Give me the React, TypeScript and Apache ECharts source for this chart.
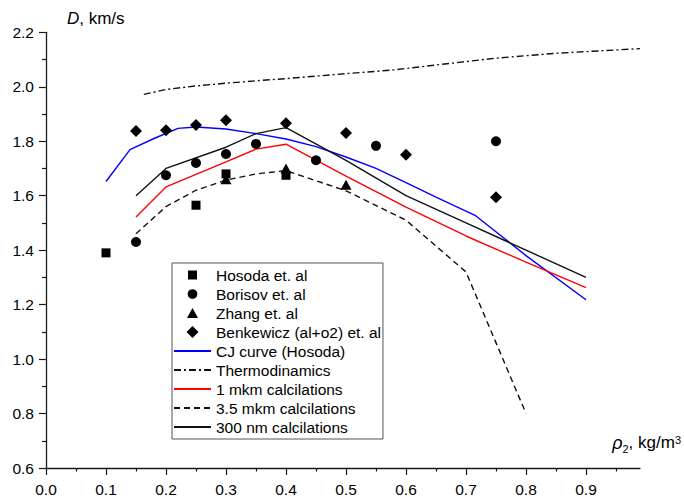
import React, { useEffect, useRef } from "react";
import * as echarts from "echarts";

// Experimental points
const hosodaX = [0.1, 0.25, 0.3, 0.4];
const hosodaY = [1.39, 1.565, 1.68, 1.675];
const borisovX = [0.15, 0.2, 0.25, 0.3, 0.35, 0.45, 0.55, 0.75];
const borisovY = [1.43, 1.675, 1.72, 1.753, 1.79, 1.73, 1.783, 1.8];
const zhangX = [0.3, 0.4, 0.5];
const zhangY = [1.66, 1.7, 1.64];
const benkX = [0.15, 0.2, 0.25, 0.3, 0.4, 0.5, 0.6, 0.75];
const benkY = [1.838, 1.84, 1.86, 1.877, 1.866, 1.83, 1.75, 1.594];

// Curves
const cjX = [0.1, 0.14, 0.18, 0.22, 0.25, 0.3, 0.35, 0.4, 0.45, 0.5, 0.55, 0.6, 0.65, 0.715, 0.8, 0.9];
const cjY = [1.652, 1.769, 1.81, 1.847, 1.852, 1.845, 1.828, 1.808, 1.78, 1.742, 1.7, 1.648, 1.595, 1.528, 1.38, 1.218];
const thermoX = [0.163, 0.2, 0.25, 0.3, 0.35, 0.4, 0.5, 0.58, 0.65, 0.75, 0.85, 0.99];
const thermoY = [1.972, 1.99, 2.003, 2.013, 2.022, 2.03, 2.048, 2.062, 2.08, 2.105, 2.123, 2.14];
const mkm1X = [0.15, 0.2, 0.25, 0.3, 0.35, 0.4, 0.5, 0.6, 0.7, 0.8, 0.9];
const mkm1Y = [1.522, 1.632, 1.678, 1.724, 1.771, 1.789, 1.672, 1.558, 1.452, 1.356, 1.262];
const mkm35X = [0.15, 0.2, 0.25, 0.3, 0.35, 0.4, 0.5, 0.6, 0.7, 0.8];
const mkm35Y = [1.46, 1.56, 1.62, 1.657, 1.68, 1.692, 1.618, 1.51, 1.32, 0.8];
const nm300X = [0.15, 0.2, 0.3, 0.35, 0.4, 0.5, 0.6, 0.7, 0.8, 0.9];
const nm300Y = [1.6, 1.7, 1.778, 1.828, 1.85, 1.73, 1.6, 1.5, 1.4, 1.3];

const xTicks = [0, 0.1, 0.2, 0.3, 0.4, 0.5, 0.6, 0.7, 0.8, 0.9];

const names = [
  "Hosoda et. al",
  "Borisov et. al",
  "Zhang et. al",
  "Benkewicz (al+o2) et. al",
  "CJ curve (Hosoda)",
  "Thermodinamics",
  "1 mkm calcilations",
  "3.5 mkm calcilations",
  "300 nm calcilations",
];

const pairs = (xs: number[], ys: number[]) => xs.map((x, i) => [x, ys[i]]);

const FONT = "Liberation Sans, Arial, sans-serif";

export default function App() {
  const ref = useRef<HTMLDivElement>(null);
  useEffect(() => {
    if (!ref.current) return;
    const chart = echarts.init(ref.current, null, { renderer: "svg" });
    const axisColor = "#1a1a1a";
    const lineSeries = (name: string, xs: number[], ys: number[], color: string, type: any) => ({
      name,
      type: "line",
      data: pairs(xs, ys),
      symbol: "none",
      lineStyle: { color, width: 1.4, type },
      itemStyle: { color },
      z: 2,
    });
    const scatterSeries = (name: string, xs: number[], ys: number[], symbol: string, size: any) => ({
      name,
      type: "scatter",
      data: pairs(xs, ys),
      symbol,
      symbolSize: size,
      itemStyle: { color: "#000", opacity: 1 },
      z: 3,
    });
    const lineItem = (name: string) => ({ name, itemStyle: { opacity: 0 } });
    const option: any = {
      animation: false,
      textStyle: { fontFamily: FONT },
      grid: { left: 46, right: 42.3, top: 32.3, bottom: 26.3, containLabel: false },
      legend: {
        orient: "vertical",
        left: 172,
        top: 263,
        padding: [4, 2, 4, 1],
        itemWidth: 37,
        itemHeight: 12,
        itemGap: 3,
        borderColor: "#555",
        borderWidth: 1,
        selectedMode: false,
        textStyle: { fontSize: 15.5, color: "#000", fontFamily: FONT },
        data: [
          { name: names[0], icon: "path://M0,0M12,12M1.5,1.5H10.5V10.5H1.5Z" },
          { name: names[1], icon: "path://M0,0M12,12M6,1.2A4.8,4.8,0,1,1,5.99,1.2Z" },
          { name: names[2], icon: "path://M0,0M12,12M6,1L11.5,11H0.5Z" },
          { name: names[3], icon: "path://M0,0M12,12M6,0L12,6L6,12L0,6Z" },
          lineItem(names[4]),
          lineItem(names[5]),
          lineItem(names[6]),
          lineItem(names[7]),
          lineItem(names[8]),
        ],
      },
      xAxis: {
        type: "value",
        min: 0,
        max: 0.99,
        interval: 0.1,
        name: "{i|ρ}{sub|2}{t|, kg/m}{sup|3}",
        nameLocation: "end",
        nameGap: 41,
        nameTextStyle: {
          align: "right",
          verticalAlign: "bottom",
          padding: [0, 0, 4, 0],
          fontSize: 17,
          color: "#000",
          rich: {
            i: { fontStyle: "italic", fontSize: 18, lineHeight: 17, verticalAlign: "top", color: "#000", fontFamily: FONT },
            t: { fontSize: 17, lineHeight: 17, verticalAlign: "top", color: "#000", fontFamily: FONT },
            sub: { fontSize: 11, lineHeight: 30, verticalAlign: "middle", color: "#000", fontFamily: FONT },
            sup: { fontSize: 11, lineHeight: 11, verticalAlign: "top", color: "#000", fontFamily: FONT },
          },
        },
        axisLine: { show: true, onZero: false, lineStyle: { color: axisColor, width: 1.3 } },
        axisTick: { show: true, inside: false, length: 7, customValues: xTicks, lineStyle: { color: axisColor, width: 1.2 } },
        minorTick: { show: true, splitNumber: 2, length: 3.5, lineStyle: { color: axisColor, width: 1.2 } },
        axisLabel: {
          customValues: xTicks,
          margin: 13,
          fontSize: 15.5,
          color: "#000",
          formatter: (v: number) => v.toFixed(1),
        },
        splitLine: { show: false },
      },
      yAxis: {
        type: "value",
        min: 0.6,
        max: 2.2,
        interval: 0.2,
        name: "{i|D}, km/s",
        nameLocation: "end",
        nameGap: 5,
        nameTextStyle: {
          align: "left",
          fontSize: 17,
          color: "#000",
          padding: [0, 0, 0, 21],
          rich: { i: { fontStyle: "italic", fontSize: 17, color: "#000", fontFamily: FONT } },
        },
        axisLine: { show: true, onZero: false, lineStyle: { color: axisColor, width: 1.3 } },
        axisTick: { show: true, inside: false, length: 7, lineStyle: { color: axisColor, width: 1.2 } },
        minorTick: { show: true, splitNumber: 2, length: 4, lineStyle: { color: axisColor, width: 1.2 } },
        axisLabel: {
          margin: 12,
          fontSize: 15.5,
          color: "#000",
          formatter: (v: number) => v.toFixed(1),
        },
        splitLine: { show: false },
      },
      series: [
        lineSeries(names[4], cjX, cjY, "#0000ff", "solid"),
        lineSeries(names[5], thermoX, thermoY, "#111", [7, 3, 2, 3]),
        lineSeries(names[6], mkm1X, mkm1Y, "#ff0000", "solid"),
        lineSeries(names[7], mkm35X, mkm35Y, "#111", [6, 4]),
        lineSeries(names[8], nm300X, nm300Y, "#111", "solid"),
        scatterSeries(names[0], hosodaX, hosodaY, "rect", 9),
        scatterSeries(names[1], borisovX, borisovY, "circle", 10),
        scatterSeries(names[2], zhangX, zhangY, "triangle", [11, 10]),
        scatterSeries(names[3], benkX, benkY, "diamond", 12),
      ],
    };
    chart.setOption(option);
    return () => chart.dispose();
  }, []);
  return <div ref={ref} style={{ width: 684, height: 497, position: "absolute", left: 0, top: 0, background: "#fff" }} />;
}
